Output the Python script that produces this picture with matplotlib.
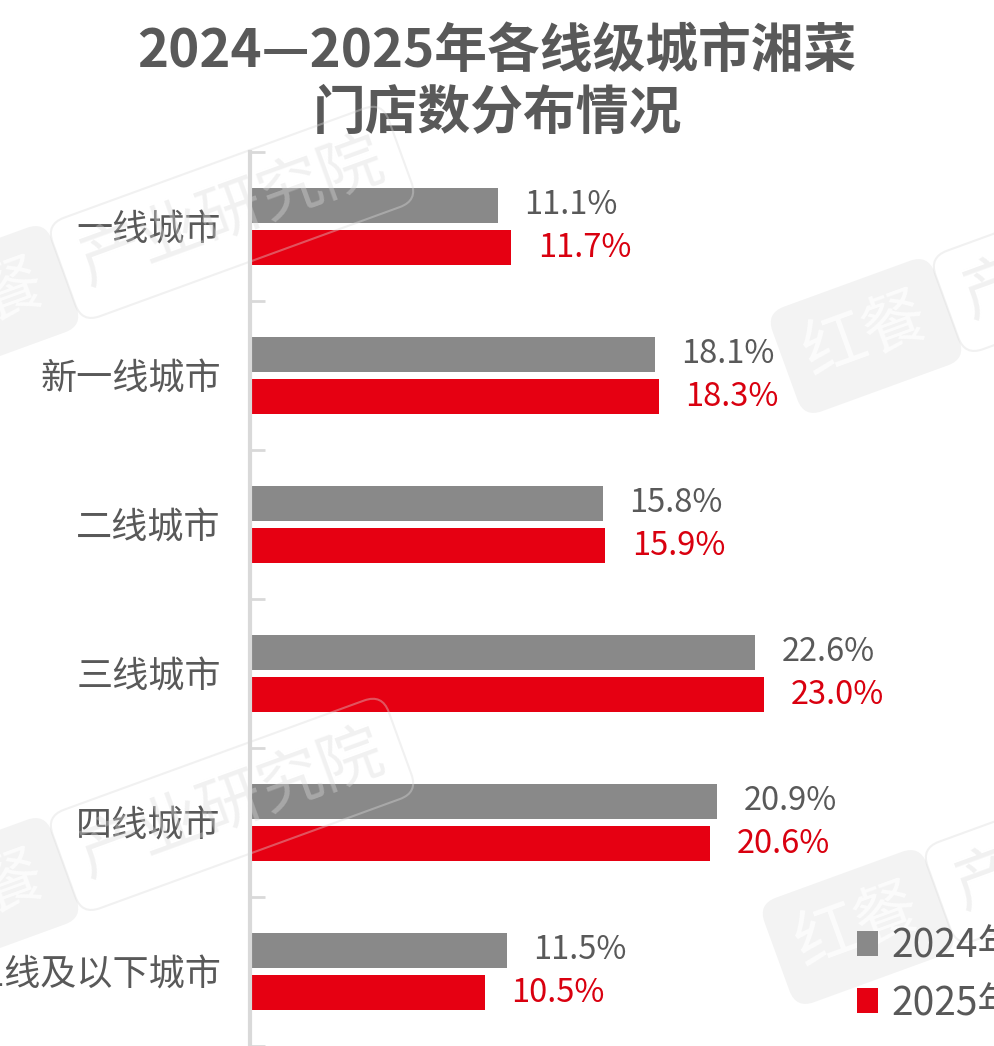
import numpy as np
import matplotlib
matplotlib.use("Agg")
import matplotlib.pyplot as plt

plt.rcParams['font.family'] = ['Noto Sans CJK SC', 'DejaVu Sans']

# 数据
cities = ['一线城市', '新一线城市', '二线城市', '三线城市', '四线城市', '五线及以下城市']
share_2024 = [11.1, 18.1, 15.8, 22.6, 20.9, 11.5]
share_2025 = [11.7, 18.3, 15.9, 23.0, 20.6, 10.5]
series_names = ['2024年', '2025年']
title_lines = ['2024—2025年各线级城市湘菜', '门店数分布情况']

GRAY = '#898989'
RED = '#e60012'
TXT = '#595959'
TXT_RED = '#d9000f'

W, H = 995, 1046
fig = plt.figure(figsize=(W / 100, H / 100), dpi=100)
fig.patch.set_facecolor('white')

ax = fig.add_axes([250 / W, 0, (W - 250) / W, (H - 152) / H])
ax.set_facecolor('none')

y = np.arange(len(cities))
bh = 0.235
off = 0.144
b1 = ax.barh(y - off, share_2024, height=bh, color=GRAY, label=series_names[0])
b2 = ax.barh(y + off, share_2025, height=bh, color=RED, label=series_names[1])

for yy, v in zip(y, share_2024):
    ax.annotate(f'{v:.1f}%', (v, yy - off), xytext=(19, 0), textcoords='offset points',
                va='center', ha='left', fontsize=23.5, color=TXT)
for yy, v in zip(y, share_2025):
    ax.annotate(f'{v:.1f}%', (v, yy + off), xytext=(19, 0), textcoords='offset points',
                va='center', ha='left', fontsize=23.5, color=TXT_RED)

ax.set_xlim(0, (W - 250) / 22.35)
ax.set_ylim(len(cities) - 0.5, -0.5)

ax.set_yticks(y)
ax.set_yticklabels(cities, fontsize=26, color=TXT)
ax.tick_params(axis='y', which='major', length=0, pad=21)
ax.set_yticks(np.arange(-0.5, len(cities), 1.0), minor=True)
ax.tick_params(axis='y', which='minor', length=11, width=2, color='#d9d9d9', direction='in')
ax.set_xticks([])

for s in ['top', 'right', 'bottom']:
    ax.spines[s].set_visible(False)
ax.spines['left'].set_color('#d9d9d9')
ax.spines['left'].set_linewidth(3)

# 标题
fig.text(497 / W, 1 - 52 / H, title_lines[0], ha='center', va='center',
         fontsize=38, fontweight='bold', color=TXT)
fig.text(497 / W, 1 - 113 / H, title_lines[1], ha='center', va='center',
         fontsize=38, fontweight='bold', color=TXT)

# 水印
for cx, cy in [(-17, 303), (866, 336), (-17, 895), (858, 927)]:
    ang = np.deg2rad(20)
    d = 265
    fig.text(cx / W, 1 - cy / H, '红餐', ha='center', va='center', rotation=20,
             rotation_mode='anchor', fontsize=46, color=(1, 1, 1, 0.75), zorder=10,
             bbox=dict(boxstyle='round,pad=0.35,rounding_size=0.3',
                       fc=(0.86, 0.86, 0.86, 0.33), ec='none'))
    px = cx + d * np.cos(ang)
    py = cy - d * np.sin(ang)
    fig.text(px / W, 1 - py / H, '产业研究院', ha='center', va='center', rotation=20,
             rotation_mode='anchor', fontsize=46, color=(0.86, 0.86, 0.86, 0.38), zorder=10,
             bbox=dict(boxstyle='round,pad=0.3,rounding_size=0.3',
                       fc='none', ec=(0.86, 0.86, 0.86, 0.38), lw=1.5))

# 图例
leg = fig.legend(handles=[b1, b2], labels=series_names, loc='upper left',
                 bbox_to_anchor=(857 / W, 1 - 926 / H), frameon=False,
                 fontsize=28, labelcolor=TXT, handlelength=0.55, handleheight=0.62,
                 handletextpad=0.33, labelspacing=0.45, borderpad=0, borderaxespad=0)
leg.set_zorder(20)

fig.savefig('out.png', dpi=100)
